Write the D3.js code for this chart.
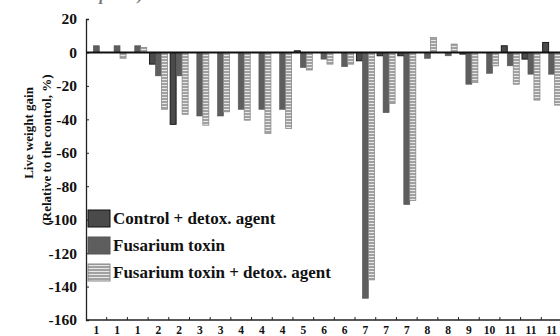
<!DOCTYPE html>
<html>
<head>
<meta charset="utf-8">
<script src="https://cdn.jsdelivr.net/npm/d3@7/dist/d3.min.js"></script>
<style>
  html, body { margin: 0; padding: 0; background: #fff; }
  svg { display: block; font-family: "Liberation Serif", "Times New Roman", serif; }
</style>
</head>
<body>
<svg id="chart" width="560" height="336"></svg>
<script>
// Trial groups along the x axis (labels repeat across replicate groups)
const groupLabels = ["1","1","1","2","2","3","3","4","4","4","5","6","6","7","7","7","8","8","9","10","11","11","11"];

// Live weight gain relative to the control, % (null = not tested)
const controlDetox  = [null, null, null, -7, -43, null, null, null, null, null, 1, null, null, -5, -2, -2, null, null, -1, null, 4, -4, 6];
const fusariumToxin = [4, 4, 4, -14, -14, -38, -38, -34, -34, -34, -9, -4, -8.5, -147, -36, -91, -3.5, -2, -19, -12.5, -8, -13, -13];
const fusariumDetox = [null, -3.5, 3, -34, -37, -43.5, -35.5, -40.5, -48.5, -45.5, -10.5, -7, -7, -136, -30.5, -88.5, 9, 5, -18, -8, -19, -28.5, -31.5];

const seriesNames = ["Control + detox. agent", "Fusarium toxin", "Fusarium toxin + detox. agent"];
const seriesValues = [controlDetox, fusariumToxin, fusariumDetox];
const yTicks = [20, 0, -20, -40, -60, -80, -100, -120, -140, -160];

const FONT = "'Liberation Serif', 'Times New Roman', serif";
const svg = d3.select("#chart");
const margin = { left: 86, top: 19, bottom: 320, right: 562 };

// Striped fill for the toxin + detox series
const defs = svg.append("defs");
const pat = defs.append("pattern")
  .attr("id", "stripes").attr("patternUnits", "userSpaceOnUse")
  .attr("width", 6).attr("height", 3);
pat.append("rect").attr("width", 6).attr("height", 3).attr("fill", "#8f8f8f");
pat.append("rect").attr("y", 0.8).attr("width", 6).attr("height", 1.4).attr("fill", "#e8e8e8");

const styles = [
  { fill: "#4a4a4a", stroke: "#111", sw: 0.9 },
  { fill: "#5e5e5e", stroke: "#555", sw: 0.6 },
  { fill: "url(#stripes)", stroke: "#8a8a8a", sw: 0.8 }
];

const x0 = d3.scaleBand()
  .domain(d3.range(groupLabels.length))
  .range([margin.left, margin.right])
  .padding(0);
const x1 = d3.scaleBand()
  .domain(d3.range(seriesNames.length))
  .range([0, x0.bandwidth()])
  .paddingInner(0).paddingOuter(0.225);
const y = d3.scaleLinear().domain([-160, 20]).range([margin.bottom, margin.top]);

// Bars
seriesValues.forEach((vals, s) => {
  const data = vals.map((v, i) => ({ i, v })).filter(d => d.v !== null);
  svg.append("g").selectAll("rect").data(data).join("rect")
    .attr("x", d => x0(d.i) + x1(s))
    .attr("width", x1.bandwidth())
    .attr("y", d => y(Math.max(0, d.v)))
    .attr("height", d => Math.abs(y(d.v) - y(0)))
    .attr("fill", styles[s].fill)
    .attr("stroke", styles[s].stroke)
    .attr("stroke-width", styles[s].sw);
});

// Y axis with inward ticks
const yAxis = d3.axisLeft(y).tickValues(yTicks).tickSize(-3).tickPadding(9)
  .tickFormat(d => String(d));
const gy = svg.append("g").attr("transform", `translate(${margin.left},0)`).call(yAxis)
  .attr("font-family", FONT);
gy.select(".domain").attr("stroke", "#222").attr("stroke-width", 1.3);
gy.selectAll(".tick line").attr("stroke", "#222");
gy.selectAll(".tick text")
  .attr("font-size", 15.5).attr("font-weight", "bold").attr("fill", "#111");

// X axis: boundary ticks plus category labels
const gx = svg.append("g").attr("transform", `translate(0,${margin.bottom})`);
gx.append("line").attr("x1", margin.left).attr("x2", 560)
  .attr("stroke", "#222").attr("stroke-width", 1.3);
gx.selectAll("line.tk").data(d3.range(1, groupLabels.length)).join("line")
  .attr("class", "tk")
  .attr("x1", i => x0(i)).attr("x2", i => x0(i))
  .attr("y1", 0).attr("y2", -3).attr("stroke", "#222");
gx.selectAll("text").data(groupLabels).join("text")
  .attr("x", (d, i) => x0(i) + x0.bandwidth() / 2)
  .attr("y", 14)
  .attr("text-anchor", "middle")
  .attr("font-size", 11.5).attr("font-weight", "bold").attr("fill", "#111")
  .text(d => d);

// Zero reference line
svg.append("line")
  .attr("x1", margin.left).attr("x2", 560)
  .attr("y1", y(0)).attr("y2", y(0))
  .attr("stroke", "#111").attr("stroke-width", 2);

// Y axis title
const title = svg.append("g").attr("font-weight", "bold").attr("font-size", 13).attr("fill", "#111");
title.append("text")
  .attr("transform", `translate(33,133) rotate(-90)`)
  .attr("text-anchor", "middle")
  .text("Live weight gain");
title.append("text")
  .attr("transform", `translate(51,150) rotate(-90)`)
  .attr("text-anchor", "middle")
  .text("(Relative to the control, %)");

// Chart heading, running off the top edge
svg.append("text")
  .attr("x", 40).attr("y", 0)
  .attr("font-size", 16).attr("font-weight", "bold").attr("font-style", "italic")
  .attr("fill", "#777")
  .text("in micro plates)");

// Legend
const legend = svg.append("g");
const legendTop = [210, 237, 264];
seriesNames.forEach((name, s) => {
  legend.append("rect")
    .attr("x", 88).attr("y", legendTop[s]).attr("width", 22).attr("height", 17)
    .attr("fill", styles[s].fill).attr("stroke", s === 0 ? "#111" : styles[s].stroke)
    .attr("stroke-width", 1);
  legend.append("text")
    .attr("x", 113).attr("y", legendTop[s] + 13.5)
    .attr("font-size", 17).attr("font-weight", "bold").attr("fill", "#111")
    .text(name);
});
</script>
</body>
</html>
